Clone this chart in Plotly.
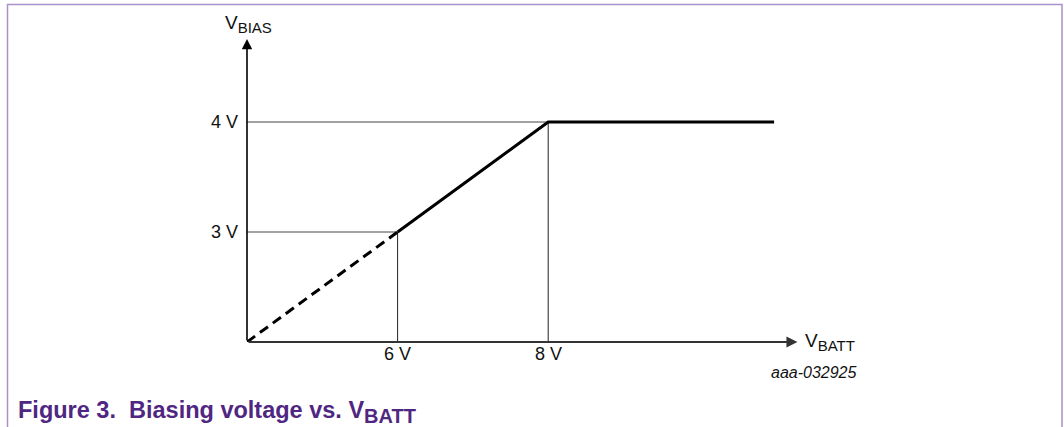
import plotly.graph_objects as go

# ---- data (schematic: V_BIAS follows V_BATT/2 up to 4 V, then clamps) ----
vbatt = [4, 6, 8, 11]          # V_BATT break points (axis origin at 4 V)
vbias = [2, 3, 4, 4]           # V_BIAS at those points (axis origin at 2 V)
x_tick_vals = [6, 8]
x_tick_text = ["6 V", "8 V"]
y_tick_vals = [3, 4]
y_tick_text = ["3 V", "4 V"]
x_axis_end = 11.31
y_axis_end = 4.755
x_label_main, x_label_sub = "V", "BATT"
y_label_main, y_label_sub = "V", "BIAS"
fig_id = "aaa-032925"
caption_main, caption_sub = "Figure 3.  Biasing voltage vs. V", "BATT"

# ---- layout geometry ----
W, H = 1064, 427
ML, MR, MT, MB = 247, 64, 12, 85
X_RANGE = [4, 14]
Y_RANGE = [2, 5]
pw, ph = W - ML - MR, H - MT - MB


def px(xp):   # pixel -> paper x
    return (xp - ML) / pw


def py(yp):   # pixel -> paper y
    return (H - MB - yp) / ph


FONT = "Liberation Sans, Arial, sans-serif"
TXT = "#111111"
fig = go.Figure()

x0, y0 = vbatt[0], vbias[0]

# guide lines from the axes to the curve break points
for xv, yv in zip(vbatt[1:3], vbias[1:3]):
    fig.add_trace(go.Scatter(x=[x0, xv], y=[yv, yv], mode="lines",
                             line=dict(color="#444444", width=1), hoverinfo="skip"))
    fig.add_trace(go.Scatter(x=[xv, xv], y=[y0, yv], mode="lines",
                             line=dict(color="#222222", width=1), hoverinfo="skip"))

# dashed extrapolation segment
fig.add_trace(go.Scatter(x=vbatt[:2], y=vbias[:2], mode="lines",
                         line=dict(color="black", width=3, dash="10px,6px"),
                         hoverinfo="skip"))
# solid characteristic
fig.add_trace(go.Scatter(x=vbatt[1:], y=vbias[1:], mode="lines",
                         line=dict(color="black", width=3), hoverinfo="skip"))

annotations = []
# axes with arrowheads
annotations.append(dict(x=x_axis_end, y=y0, ax=x0, ay=y0, xref="x", yref="y",
                        axref="x", ayref="y", text="", showarrow=True,
                        arrowhead=2, arrowsize=1.1, arrowwidth=2, arrowcolor="#333333"))
annotations.append(dict(x=x0, y=y_axis_end, ax=x0, ay=y0, xref="x", yref="y",
                        axref="x", ayref="y", text="", showarrow=True,
                        arrowhead=2, arrowsize=1.3, arrowwidth=1.6, arrowcolor="black"))

tick_font = dict(family=FONT, size=18, color=TXT)
for v, t in zip(x_tick_vals, x_tick_text):
    annotations.append(dict(x=v, y=y0, xref="x", yref="y", text=t, showarrow=False,
                            xanchor="center", yanchor="top", yshift=0, font=tick_font))
for v, t in zip(y_tick_vals, y_tick_text):
    annotations.append(dict(x=x0, y=v, xref="x", yref="y", text=t, showarrow=False,
                            xanchor="right", yanchor="middle", xshift=-7, font=tick_font))


def subtext(main, sub, sub_size):
    return "{}<sub><span style='font-size:{}px'>{}</span></sub>".format(main, sub_size, sub)


annotations.append(dict(x=px(803), y=py(342), xref="paper", yref="paper",
                        text=subtext(x_label_main, x_label_sub, 15),
                        showarrow=False, xanchor="left", yanchor="middle",
                        font=dict(family=FONT, size=19, color=TXT)))
annotations.append(dict(x=px(248), y=py(24), xref="paper", yref="paper",
                        text=subtext(y_label_main, y_label_sub, 15),
                        showarrow=False, xanchor="center", yanchor="middle",
                        font=dict(family=FONT, size=19, color=TXT)))
annotations.append(dict(x=px(859), y=py(372), xref="paper", yref="paper",
                        text="<i>" + fig_id + "</i>",
                        showarrow=False, xanchor="right", yanchor="middle",
                        font=dict(family=FONT, size=16, color=TXT)))
annotations.append(dict(x=px(16), y=py(412), xref="paper", yref="paper",
                        text="<b>" + subtext(caption_main, caption_sub, 20) + "</b>",
                        showarrow=False, xanchor="left", yanchor="middle",
                        font=dict(family=FONT, size=23.5, color="#4f2782")))

# open-bottom frame
frame_path = "M {l},{b} L {l},{t} L {r},{t} L {r},{b}".format(
    l=px(7.5), r=px(1062), t=py(4.5), b=py(430))
shapes = [dict(type="path", xref="paper", yref="paper", path=frame_path,
               line=dict(color="#a891cc", width=1.5))]

fig.update_layout(
    width=W, height=H,
    margin=dict(l=ML, r=MR, t=MT, b=MB, pad=0),
    paper_bgcolor="white", plot_bgcolor="white",
    showlegend=False,
    xaxis=dict(range=X_RANGE, visible=False, fixedrange=True),
    yaxis=dict(range=Y_RANGE, visible=False, fixedrange=True),
    annotations=annotations,
    shapes=shapes,
)

fig.write_html("out.html", config={"displayModeBar": False},
               post_script="document.body.style.margin='0px';")
